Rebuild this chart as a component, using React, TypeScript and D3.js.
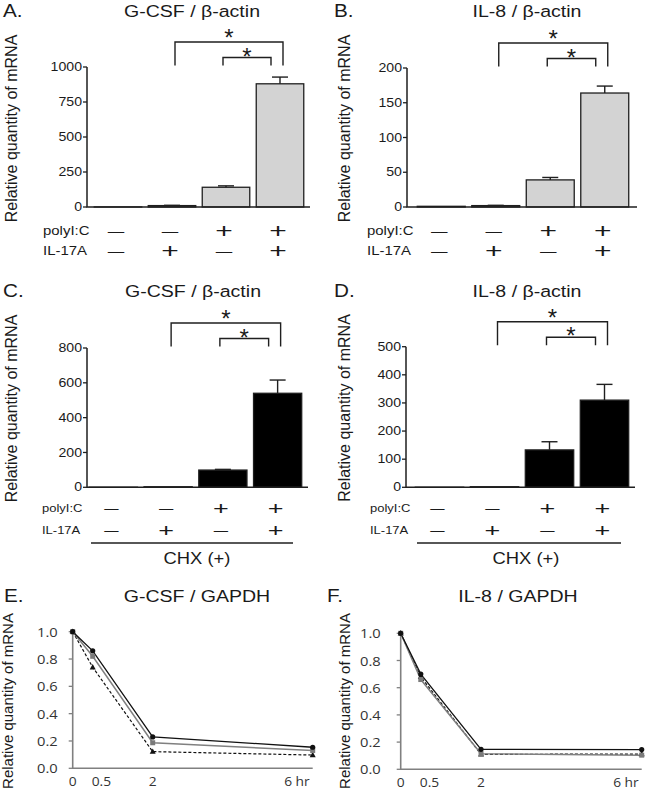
import React from "react";
import * as d3 from "d3";

// ---------- data ----------
const groups = ["g1", "g2", "g3", "g4"];
const rowLabels = ["polyI:C", "IL-17A"];
const polyICSigns = ["—", "—", "+", "+"];
const il17aSigns = ["—", "+", "—", "+"];

const gcsfActinMean = [0.5, 10, 141, 880];
const gcsfActinErr = [0, 2, 10, 48];
const gcsfActinTicks = [0, 250, 500, 750, 1000];

const il8ActinMean = [1, 2, 39, 164];
const il8ActinErr = [0.2, 0.4, 3.5, 10];
const il8ActinTicks = [0, 50, 100, 150, 200];

const gcsfChxMean = [0.5, 3, 99, 540];
const gcsfChxErr = [0, 0.5, 4, 76];
const gcsfChxTicks = [0, 200, 400, 600, 800];

const il8ChxMean = [0.3, 2, 133, 310];
const il8ChxErr = [0, 0.3, 29, 56];
const il8ChxTicks = [0, 100, 200, 300, 400, 500];

const chxLabel = "CHX (+)";

const hours = [0, 0.5, 2, 6];
const hourLabels = ["0", "0.5", "2", "6 hr"];
const decayTicks = [0, 0.2, 0.4, 0.6, 0.8, 1.0];
const gcsfDecayBlack = [1, 0.86, 0.23, 0.154];
const gcsfDecayGray = [1, 0.82, 0.187, 0.13];
const gcsfDecayDashed = [1, 0.74, 0.122, 0.097];
const il8DecayBlack = [1, 0.7, 0.147, 0.145];
const il8DecayGray = [1, 0.66, 0.115, 0.104];
const il8DecayDashed = [1, 0.68, 0.11, 0.112];

const SANS = "'Liberation Sans', Arial, Helvetica, sans-serif";
const CAL = "'Open Sans', 'Liberation Sans', sans-serif";
const SX = 1.15;

function T({ x, y, fs, anchor = "start", sx = SX, family = SANS, fill = "#1a1a1a", baseline, children }: any) {
  return (
    <text
      transform={`translate(${x},${y}) scale(${sx},1)`}
      fontSize={fs}
      textAnchor={anchor}
      fontFamily={family}
      fill={fill}
      dominantBaseline={baseline}
    >
      {children}
    </text>
  );
}

function YLabel({ x, y, fs }: any) {
  return (
    <text transform={`translate(${x},${y}) rotate(-90)`} fontSize={fs} textAnchor="middle" fontFamily={SANS} fill="#1a1a1a">
      Relative quantity of mRNA
    </text>
  );
}

function BarPanel(p: any) {
  const { letter, letterX, title, titleX, titleY, means, errs, ticks, fill, axisX, xEnd, yTop, yBase, band,
    ylabX, ylabY, rowX, rowY, rowFs, plusFs, dashFs } = p;
  const x = d3.scaleBand().domain(groups).range(band).paddingInner(0.12).paddingOuter(0.06);
  const y = d3.scaleLinear().domain([0, ticks[ticks.length - 1]]).range([yBase, yTop]);
  const bw = x.bandwidth();
  const cx = (i: number) => (x(groups[i]) as number) + bw / 2;
  const c1 = cx(1), c2 = cx(2), c3 = cx(3);
  const legB = yTop - 1.5;
  const outerTop = yTop - 25;
  const innerTop = yTop - 9.5;
  const stroke = "#1f1f1f";
  return (
    <g>
      <T x={letterX} y={titleY} fs={18}>{letter}</T>
      <T x={titleX} y={titleY} fs={17} anchor="middle">{title}</T>
      <YLabel x={ylabX} y={ylabY} fs={16} />
      {means.map((v: number, i: number) => {
        const top = y(v);
        return (
          <g key={i}>
            <rect x={x(groups[i])} y={top} width={bw} height={Math.max(0, yBase - top)} fill={fill} stroke={stroke} strokeWidth={1.3} />
            {errs[i] > 0 && yBase - y(v + errs[i]) > 1.5 && (
              <g stroke={stroke} strokeWidth={1.4}>
                <line x1={cx(i)} x2={cx(i)} y1={top} y2={y(v + errs[i])} />
                <line x1={cx(i) - 8} x2={cx(i) + 8} y1={y(v + errs[i])} y2={y(v + errs[i])} />
              </g>
            )}
          </g>
        );
      })}
      <path d={`M${axisX},${yTop} V${yBase} H${xEnd}`} fill="none" stroke={stroke} strokeWidth={1.5} />
      {ticks.map((t: number) => (
        <g key={t}>
          <line x1={axisX - 4} x2={axisX} y1={y(t)} y2={y(t)} stroke={stroke} strokeWidth={1.3} />
          <T x={axisX - 5} y={y(t)} fs={12.3} anchor="end" baseline="central">{t}</T>
        </g>
      ))}
      <path d={`M${c1 + 3},${legB} V${outerTop} H${c3 + 3} V${legB}`} fill="none" stroke={stroke} strokeWidth={1.4} />
      <path d={`M${c2 - 3},${legB} V${innerTop} H${c3 - 9} V${legB}`} fill="none" stroke={stroke} strokeWidth={1.4} />
      <T x={(c1 + c3 + 6) / 2} y={outerTop + 4} fs={24} anchor="middle" sx={1}>*</T>
      <T x={(c2 + c3 - 12) / 2} y={innerTop + 7} fs={24} anchor="middle" sx={1}>*</T>
      {rowLabels.map((lab, r) => (
        <T key={lab} x={rowX} y={rowY[r]} fs={rowFs} baseline="central">{lab}</T>
      ))}
      {[polyICSigns, il17aSigns].map((signs, r) =>
        signs.map((s, i) => (
          <T key={`${r}-${i}`} x={cx(i) - 2} y={rowY[r] + 0.5} fs={s === "+" ? plusFs : dashFs}
            anchor="middle" baseline="central" sx={s === "+" ? 1.5 : 1.1}>{s}</T>
        ))
      )}
    </g>
  );
}

function ChxBar({ x1, x2, lineY, textX, textY }: any) {
  return (
    <g>
      <line x1={x1} x2={x2} y1={lineY} y2={lineY} stroke="#1f1f1f" strokeWidth={1.4} />
      <T x={textX} y={textY} fs={16} anchor="middle">{chxLabel}</T>
    </g>
  );
}

function LinePanel(p: any) {
  const { letter, letterX, title, titleX, titleY, black, gray, dashed, axisX, xEnd, yTop, yBase, ylabX, ylabY, labGap } = p;
  const x = d3.scaleLinear().domain([0, 6]).range([axisX, xEnd]);
  const y = d3.scaleLinear().domain([0, 1]).range([yBase, yTop]);
  const line = d3.line<number>().x((_, i) => x(hours[i])).y((d) => y(d));
  const axisCol = "#808080";
  const labelPos = (i: number) => {
    if (hourLabels[i] === "0.5") return { x: x(hours[i]) - 1, a: "start" };
    if (i === hours.length - 1) return { x: x(hours[i]) - 3, a: "end" };
    return { x: x(hours[i]), a: "middle" };
  };
  const tri = (cx: number, cy: number) => `M${cx},${cy - 3.2} L${cx + 3},${cy + 2.2} L${cx - 3},${cy + 2.2} Z`;
  return (
    <g>
      <T x={letterX} y={titleY} fs={18}>{letter}</T>
      <T x={titleX} y={titleY} fs={17} anchor="middle">{title}</T>
      <YLabel x={ylabX} y={ylabY} fs={15} />
      <path d={`M${axisX},${yTop - 1} V${yBase} H${xEnd}`} fill="none" stroke={axisCol} strokeWidth={1.6} />
      {decayTicks.map((t) => (
        <g key={t}>
          <line x1={axisX - 4} x2={axisX} y1={y(t)} y2={y(t)} stroke={axisCol} strokeWidth={1.3} />
          <T x={axisX - labGap} y={y(t)} fs={12.8} anchor="end" baseline="central" family={CAL} fill="#333">{t.toFixed(1)}</T>
        </g>
      ))}
      {hourLabels.map((l, i) => {
        const lp = labelPos(i);
        return <T key={l} x={lp.x} y={yBase + 18} fs={12} anchor={lp.a} family={CAL} fill="#333">{l}</T>;
      })}
      <path d={line(dashed) as string} fill="none" stroke="#111" strokeWidth={1.2} strokeDasharray="3 2" />
      <path d={line(gray) as string} fill="none" stroke="#808080" strokeWidth={1.5} />
      <path d={line(black) as string} fill="none" stroke="#111" strokeWidth={1.3} />
      {dashed.map((v: number, i: number) => <path key={`t${i}`} d={tri(x(hours[i]), y(v))} fill="#111" />)}
      {gray.map((v: number, i: number) => <rect key={`s${i}`} x={x(hours[i]) - 2.5} y={y(v) - 2.5} width={5} height={5} fill="#7a7a7a" />)}
      {black.map((v: number, i: number) => <circle key={`c${i}`} cx={x(hours[i])} cy={y(v)} r={2.6} fill="#111" />)}
    </g>
  );
}

export default function App() {
  return (
    <svg width={645} height={791} style={{ position: "absolute", left: 0, top: 0, background: "#fff" }}>
      <rect width={645} height={791} fill="#fff" />
      <BarPanel letter="A." letterX={3} title="G-CSF / β-actin" titleX={192} titleY={17}
        means={gcsfActinMean} errs={gcsfActinErr} ticks={gcsfActinTicks} fill="#d3d3d3"
        axisX={87} xEnd={310} yTop={67} yBase={207} band={[91, 307]}
        ylabX={16.5} ylabY={128.5} rowX={43} rowY={[230, 250]} rowFs={13} plusFs={20} dashFs={15} />
      <BarPanel letter="B." letterX={334} title="IL-8 / β-actin" titleX={527} titleY={17}
        means={il8ActinMean} errs={il8ActinErr} ticks={il8ActinTicks} fill="#d3d3d3"
        axisX={407} xEnd={637} yTop={68} yBase={207} band={[414, 632]}
        ylabX={349.5} ylabY={128.5} rowX={367} rowY={[230, 250]} rowFs={13} plusFs={20} dashFs={15} />
      <BarPanel letter="C." letterX={3} title="G-CSF / β-actin" titleX={193} titleY={297}
        means={gcsfChxMean} errs={gcsfChxErr} ticks={gcsfChxTicks} fill="#000"
        axisX={87} xEnd={308} yTop={348} yBase={487.3} band={[86, 305]}
        ylabX={16.5} ylabY={408.5} rowX={42} rowY={[508.5, 530.5]} rowFs={11.3} plusFs={18} dashFs={13} />
      <BarPanel letter="D." letterX={334} title="IL-8 / β-actin" titleX={527} titleY={297}
        means={il8ChxMean} errs={il8ChxErr} ticks={il8ChxTicks} fill="#000"
        axisX={406} xEnd={635} yTop={346.7} yBase={487.3} band={[412, 632]}
        ylabX={349.5} ylabY={408} rowX={370} rowY={[508.5, 530.5]} rowFs={11.3} plusFs={18} dashFs={13} />
      <ChxBar x1={91} x2={293} lineY={543} textX={197} textY={564} />
      <ChxBar x1={417} x2={621} lineY={543} textX={526} textY={564} />
      <LinePanel letter="E." letterX={4} title="G-CSF / GAPDH" titleX={197} titleY={602}
        black={gcsfDecayBlack} gray={gcsfDecayGray} dashed={gcsfDecayDashed}
        axisX={72.7} xEnd={312.7} yTop={631.7} yBase={768.3} ylabX={12.5} ylabY={701} labGap={15} />
      <LinePanel letter="F." letterX={327} title="IL-8 / GAPDH" titleX={518} titleY={602}
        black={il8DecayBlack} gray={il8DecayGray} dashed={il8DecayDashed}
        axisX={400.7} xEnd={641.7} yTop={633.3} yBase={769.3} ylabX={349.5} ylabY={701} labGap={20} />
    </svg>
  );
}
